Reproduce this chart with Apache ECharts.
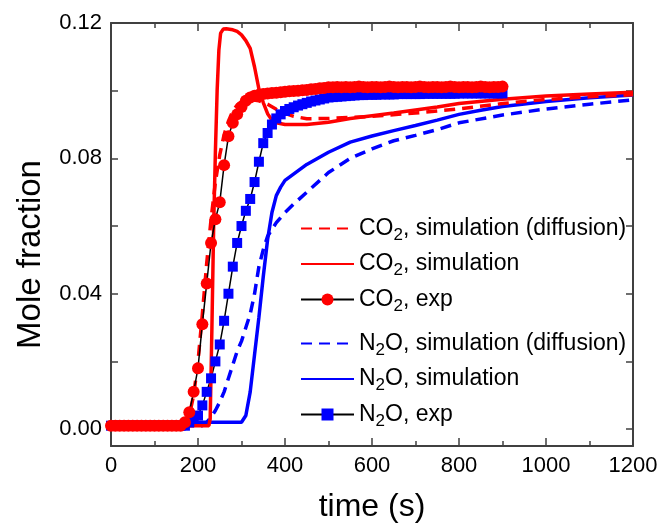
<!DOCTYPE html>
<html><head><meta charset="utf-8">
<script src="https://cdn.jsdelivr.net/npm/echarts@6/dist/echarts.min.js"></script>
<style>html,body{margin:0;padding:0;background:#fff}#c{width:662px;height:528px}</style>
</head><body><div id="c"></div>
<script>
// ---- data ----
var expTime = [0,10,20,30,40,50,60,70,80,90,100,110,120,130,140,150,160,170,180,190,200,210,220,230,240,250,260,270,280,290,300,310,320,330,340,350,360,370,380,390,400,410,420,430,440,450,460,470,480,490,500,510,520,530,540,550,560,570,580,590,600,610,620,630,640,650,660,670,680,690,700,710,720,730,740,750,760,770,780,790,800,810,820,830,840,850,860,870,880,890,900];
var co2Exp = [0.001,0.001,0.001,0.001,0.001,0.001,0.001,0.001,0.001,0.001,0.001,0.001,0.001,0.001,0.001,0.001,0.001,
  0.002,0.005,0.011,0.018,0.031,0.043,0.055,0.062,0.067,0.078,0.0865,0.0905,0.093,0.0952,0.097,0.098,0.0985,0.0988,0.099,0.0992,0.0993,0.0994,0.0995,0.0997,0.0998,0.0999,0.1,0.1001,0.1002,0.1004,0.1005,0.1007,0.1008,0.101,
  0.101,0.1011,0.101,0.1011,0.101,0.1011,0.1012,0.1011,0.101,0.1011,0.1011,0.101,0.1011,0.1012,0.1011,0.101,0.1011,0.1011,0.101,0.1011,0.1012,0.1011,0.101,0.1011,0.1011,0.101,0.1011,0.1012,0.1011,0.101,0.1011,0.1011,0.101,0.1011,0.1012,0.1011,0.101,0.1011,0.1011,0.1012];
var n2oExp = [0.001,0.001,0.001,0.001,0.001,0.001,0.001,0.001,0.001,0.001,0.001,0.001,0.001,0.001,0.001,0.001,0.001,0.001,
  0.002,0.003,0.004,0.007,0.011,0.015,0.020,0.025,0.032,0.040,0.048,0.055,0.060,0.0645,0.068,0.073,0.079,0.0845,0.0875,0.0900,0.0918,0.0930,0.0940,0.0946,0.0951,0.0956,0.0960,0.0964,0.0968,0.0971,0.0974,0.0977,0.0980,0.0981,0.0982,0.0983,0.0984,0.0985,0.0986,0.0987,0.0987,0.0988,
  0.0988,0.0988,0.0989,0.0989,0.0989,0.0989,0.099,0.099,0.099,0.099,0.099,0.099,0.0991,0.0991,0.0991,0.0991,0.0991,0.0991,0.0991,0.0991,0.0992,0.0992,0.0992,0.0992,0.0992,0.0992,0.0992,0.0992,0.0992,0.0992,0.0992];

var co2DiffTime = [0,170,180,190,200,210,220,230,240,250,260,270,280,290,300,320,340,360,380,400,420,450,500,600,700,800,900,1000,1100,1200];
var co2DiffVal  = [0.001,0.0015,0.004,0.010,0.020,0.034,0.049,0.062,0.073,0.081,0.087,0.091,0.094,0.0958,0.0968,0.0974,0.097,0.096,0.0945,0.0933,0.0924,0.0917,0.0918,0.0924,0.0934,0.0946,0.0962,0.0974,0.0982,0.0988];

var co2SimTime = [0,225,228,232,236,240,244,248,252,258,265,280,290,300,310,320,330,340,350,360,370,380,400,450,500,550,600,650,700,750,800,900,1000,1100,1200];
var co2SimVal  = [0.001,0.001,0.003,0.030,0.060,0.082,0.100,0.112,0.117,0.1182,0.1183,0.118,0.1175,0.1165,0.1148,0.1125,0.107,0.1005,0.0965,0.0932,0.0913,0.0905,0.0900,0.0900,0.0907,0.0918,0.0926,0.0934,0.0943,0.0952,0.0962,0.0975,0.0984,0.099,0.0995];

var n2oDiffTime = [0,210,220,230,240,250,260,270,280,290,300,310,320,330,340,350,360,380,400,420,450,500,550,600,650,700,750,800,900,1000,1100,1200];
var n2oDiffVal  = [0.001,0.001,0.002,0.0035,0.0055,0.008,0.011,0.015,0.019,0.023,0.026,0.030,0.034,0.040,0.048,0.053,0.057,0.061,0.064,0.0665,0.070,0.0758,0.080,0.0828,0.0852,0.0868,0.0885,0.0905,0.0928,0.0946,0.096,0.0973];

var n2oSimTime = [0,300,310,320,330,340,350,360,370,380,390,400,450,500,550,600,650,700,750,800,850,900,1000,1100,1200];
var n2oSimVal  = [0.002,0.002,0.004,0.011,0.022,0.033,0.045,0.056,0.064,0.069,0.0715,0.0735,0.0782,0.0818,0.0848,0.0866,0.0882,0.0897,0.0913,0.0930,0.0942,0.0953,0.0968,0.0979,0.0987];

var xTicks = [0,200,400,600,800,1000,1200];
var yLabels = [0, 0.04, 0.08, 0.12];
var yTicks = [0, 0.02, 0.04, 0.06, 0.08, 0.10, 0.12];

var names = {
  co2Diff: 'CO2, simulation (diffusion)',
  co2Sim: 'CO2, simulation',
  co2Exp: 'CO2, exp',
  n2oDiff: 'N2O, simulation (diffusion)',
  n2oSim: 'N2O, simulation',
  n2oExp: 'N2O, exp'
};

function zip(t, v) { return t.map(function (x, i) { return [x, v[i]]; }); }

var FONT = 'Liberation Sans, Arial, sans-serif';
var AX = '#404040';
var RED = '#ff0000', BLUE = '#0000ff';
var LW = 3.5, DASH = [11, 7];

var legendText = {
  fontFamily: FONT, fontSize: 23, color: '#000',
  rich: { s: { fontFamily: FONT, fontSize: 17, color: '#000', padding: [13, 0, 0, 0] } }
};
function fmt(n) { return n.replace(/^(CO|N)2/, '$1{s|2}'); }
var noSym = { color: 'rgba(0,0,0,0)', borderWidth: 0, opacity: 0 };

var chart = echarts.init(document.getElementById('c'), null, { renderer: 'canvas' });
var xCommon = {
  type: 'value', min: 0, max: 1200, interval: 200,
  axisLine: { show: true, onZero: false, lineStyle: { color: AX, width: 2 } },
  axisTick: { show: true, inside: true, length: 8, lineStyle: { color: AX, width: 1.5 } },
  minorTick: { show: true, splitNumber: 2, length: 5, lineStyle: { color: AX, width: 1.5 } },
  splitLine: { show: false }
};
var yCommon = {
  type: 'value', min: -0.005, max: 0.12,
  axisLine: { show: true, onZero: false, lineStyle: { color: AX, width: 2 } },
  axisTick: { show: true, inside: true, length: 7, customValues: yTicks, lineStyle: { color: AX, width: 1.5 } },
  splitLine: { show: false }
};
var option = {
  animation: false,
  backgroundColor: '#fff',
  grid: { left: 111, top: 23, right: 29, bottom: 82, containLabel: false },
  xAxis: [
    Object.assign({}, xCommon, {
      position: 'bottom', name: 'time (s)', nameLocation: 'middle', nameGap: 45,
      nameTextStyle: { fontFamily: FONT, fontSize: 32, color: '#000' },
      axisLabel: { show: true, margin: 9, fontFamily: FONT, fontSize: 22, color: '#000', customValues: xTicks,
        formatter: function (v) { return String(v); } }
    }),
    Object.assign({}, xCommon, { position: 'top', axisLabel: { show: false } })
  ],
  yAxis: [
    Object.assign({}, yCommon, {
      position: 'left', name: 'Mole fraction', nameLocation: 'middle', nameGap: 64,
      nameTextStyle: { fontFamily: FONT, fontSize: 33, color: '#000', padding: [0, 40, 0, 0] },
      axisLabel: { show: true, margin: 9, fontFamily: FONT, fontSize: 22, color: '#000', customValues: yLabels,
        formatter: function (v) { return v.toFixed(2); } }
    }),
    Object.assign({}, yCommon, { position: 'right', axisLabel: { show: false } })
  ],
  legend: [
    { data: [{ name: names.co2Diff, itemStyle: noSym }, { name: names.co2Sim, itemStyle: noSym }, names.co2Exp],
      orient: 'vertical', left: 295, top: 212, padding: 5,
      itemWidth: 53, itemHeight: 15, itemGap: 9, textStyle: legendText, formatter: fmt },
    { data: [{ name: names.n2oDiff, itemStyle: noSym }, { name: names.n2oSim, itemStyle: noSym }, names.n2oExp],
      orient: 'vertical', left: 295, top: 327, padding: 5,
      itemWidth: 53, itemHeight: 15, itemGap: 9, textStyle: legendText, formatter: fmt }
  ],
  series: [
    { name: names.n2oDiff, type: 'line', data: zip(n2oDiffTime, n2oDiffVal), symbol: 'none',
      lineStyle: { color: BLUE, width: LW, type: DASH }, itemStyle: { color: BLUE } },
    { name: names.n2oSim, type: 'line', data: zip(n2oSimTime, n2oSimVal), symbol: 'none',
      lineStyle: { color: BLUE, width: LW }, itemStyle: { color: BLUE } },
    { name: names.n2oExp, type: 'line', data: zip(expTime, n2oExp), symbol: 'rect', symbolSize: 10,
      lineStyle: { color: '#000', width: 1.5 }, itemStyle: { color: BLUE } },
    { name: names.co2Diff, type: 'line', data: zip(co2DiffTime, co2DiffVal), symbol: 'none',
      lineStyle: { color: RED, width: LW, type: DASH }, itemStyle: { color: RED } },
    { name: names.co2Sim, type: 'line', data: zip(co2SimTime, co2SimVal), symbol: 'none',
      lineStyle: { color: RED, width: LW }, itemStyle: { color: RED } },
    { name: names.co2Exp, type: 'line', data: zip(expTime, co2Exp), symbol: 'circle', symbolSize: 12,
      lineStyle: { color: '#000', width: 1.5 }, itemStyle: { color: RED } }
  ]
};
chart.setOption(option);
</script></body></html>
